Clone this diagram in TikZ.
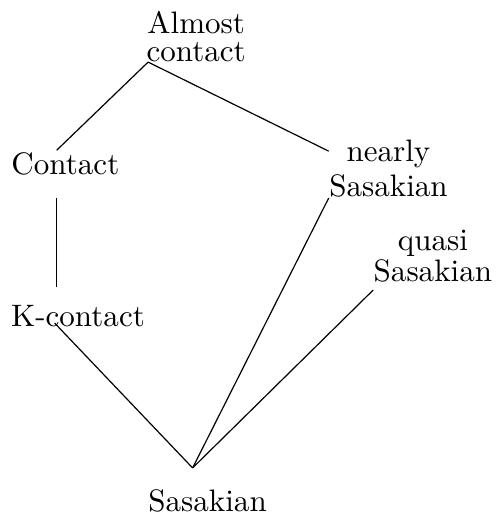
\documentclass[tikz,border=0pt]{standalone}
\usepackage{tikz}

\begin{document}
\begin{tikzpicture}[x=1pt,y=1pt,thin,every node/.style={inner sep=0pt,anchor=south,align=center,font=\fontsize{10.35pt}{12.4pt}\selectfont}]
  \useasboundingbox (0,0) rectangle (165.33,-174);
  \node (almost) at (65.4,-20.7) {Almost\\[-3.1pt]contact};
  \node (contact) at (21.8,-58.7) {Contact};
  \node (nearly) at (129.5,-66) {nearly\\[-0.7pt]Sasakian};
  \node (quasi) at (144.3,-94.3) {quasi\\[-1.9pt]Sasakian};
  \node (kcontact) at (26,-109) {K-contact};
  \node (sasakian) at (69.2,-170.9) {Sasakian};
  \coordinate (s) at ([xshift=-5pt,yshift=7pt]sasakian.north);
  \draw ([xshift=0.7pt]almost.south west) -- ([xshift=-2.9pt,yshift=0.7pt]contact.north);
  \draw ([xshift=0.7pt]almost.south west) -- ([yshift=-3.9pt]nearly.north west);
  \draw[shorten <=7.3pt,shorten >=5.8pt] ([xshift=-2.9pt]contact.south) -- ([xshift=-2.9pt]contact.south |- kcontact.north);
  \draw ([xshift=14.7pt,yshift=1.3pt]kcontact.south west) -- (s);
  \draw (nearly.south west) -- (s);
  \draw ([yshift=-2.4pt]quasi.south west) -- (s);
\end{tikzpicture}
\end{document}
